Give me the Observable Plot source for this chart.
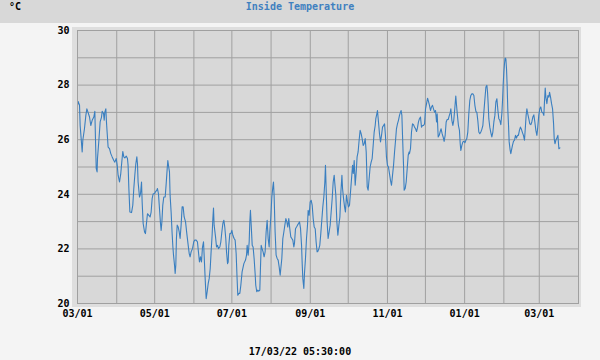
<!DOCTYPE html>
<html><head><meta charset="utf-8">
<script src="https://cdn.jsdelivr.net/npm/d3@7"></script>
<script src="https://cdn.jsdelivr.net/npm/@observablehq/plot@0.6"></script>
<style>
body{margin:0;background:#f4f4f4;}
#wrap{position:relative;width:600px;height:360px;background:#f4f4f4;overflow:hidden;font-family:"DejaVu Sans Mono",monospace;font-weight:bold;font-size:10px;line-height:10px;}
#band{position:absolute;left:0;top:0;width:600px;height:23px;background:#d8d8d8;}
#title{position:absolute;top:2px;left:0;width:600px;text-align:center;color:#4080c0;}
#unit{position:absolute;top:2px;left:9px;color:#000;}
#shadow{position:absolute;left:72px;top:27px;width:509px;height:280px;background:#dedede;}
#chart{position:absolute;left:0;top:0;}
#stamp{position:absolute;top:347px;left:0;width:600px;text-align:center;color:#000;}
</style></head>
<body>
<div id="wrap">
  <div id="band"></div>
  <div id="title">Inside Temperature</div>
  <div id="unit">°C</div>
  <div id="shadow"></div>
  <div id="chart"></div>
  <div id="stamp">17/03/22 05:30:00</div>
</div>
<script>
const startDate = "2021-03-01";
const endDate = "2022-04-01";
const xTickLabels = ["2021-03-01","2021-05-01","2021-07-01","2021-09-01","2021-11-01","2022-01-01","2022-03-01"];
const yTickLabels = [20,22,24,26,28,30];
// day offsets from startDate
const days = [
0,0.5,1.6,2.1,2.9,3.7,4.2,5.5,6.6,7.4,8.4,9.5,10.5,11.6,12.9,13.7,14.2,14.8,15.5,15.8,16.9,17.9,19.0,19.5,20.6,21.1,21.6,22.4,22.9,23.4,24.2,25.3,26.3,27.4,28.7,29.5,30.6,31.4,32.1,33.2,34.2,35.0,35.8,36.6,37.4,38.5,39.5,40.0,40.6,41.4,42.7,43.7,44.5,45.3,46.1,46.9,47.4,47.9,49.0,49.8,50.6,51.1,51.9,53.0,53.7,54.5,55.3,56.4,57.4,58.2,59.0,59.8,60.9,61.6,62.7,63.2,64.0,64.8,65.6,66.1,66.7,67.4,68.2,69.3,70.1,70.9,71.4,71.9,72.7,73.2,74.0,74.8,75.4,75.9,76.7,77.2,77.7,78.2,78.8,79.6,80.4,81.1,81.9,82.7,83.5,84.3,85.4,86.4,87.5,88.3,89.0,89.8,90.9,91.9,92.7,93.8,94.8,95.6,96.4,97.2,98.0,98.8,99.6,100.1,100.9,101.7,102.5,103.3,104.1,104.9,105.6,106.4,107.0,107.5,108.0,109.1,109.9,110.7,111.4,112.5,113.3,114.1,114.9,115.7,116.4,117.2,117.8,118.6,119.1,119.6,120.4,121.2,122.0,122.8,123.8,124.6,125.4,126.2,126.7,127.5,128.3,129.1,
130.1,131.5,132.8,133.6,134.1,134.9,135.7,136.2,136.7,137.3,138.1,138.8,139.6,140.4,140.9,141.7,142.5,143.3,144.1,144.6,145.2,145.9,146.7,147.5,148.3,149.1,149.9,150.7,151.5,152.0,152.8,153.6,154.4,154.9,155.4,156.2,157.0,157.8,158.6,159.4,160.2,160.7,161.5,162.3,163.1,163.9,164.7,165.5,166.2,167.0,167.8,168.6,169.4,170.2,171.0,171.5,172.3,173.1,173.9,174.7,175.5,176.3,177.1,177.6,178.1,178.9,179.4,180.2,181.0,181.8,182.3,183.1,183.9,184.7,185.5,186.3,187.1,187.9,188.6,189.4,190.0,190.8,191.5,192.3,193.1,193.9,194.7,195.5,196.0,196.5,197.3,198.1,198.9,199.7,200.5,201.3,202.1,202.9,203.4,204.2,205.0,205.8,206.6,207.4,208.2,209.0,209.5,210.3,211.1,211.8,212.6,213.4,214.2,215.0,215.8,216.6,217.4,218.0,218.7,219.5,220.3,221.0,221.8,222.6,223.4,224.2,225.0,225.8,226.6,227.4,228.2,229.0,229.7,230.5,231.3,232.1,232.9,233.7,234.5,235.3,235.8,236.6,237.1,237.9,238.7,239.5,240.3,241.1,241.9,242.7,243.4,244.2,245.0,245.8,246.6,247.4,248.2,249.0,249.8,250.6,251.4,252.1,252.9,253.7,254.5,255.3,255.8,256.4,256.9,257.7,258.2,259.0,259.8,260.6,261.4,262.1,
262.4,263.2,264.0,264.8,265.6,266.4,267.2,268.0,268.7,269.5,270.3,271.1,271.9,272.7,273.5,274.3,275.1,275.9,276.7,277.4,278.2,279.0,279.8,280.6,281.4,282.2,283.0,283.8,284.3,285.1,285.9,286.7,287.4,288.2,289.0,289.8,290.6,291.4,292.2,293.0,293.8,294.6,295.1,295.9,296.7,297.4,298.2,299.0,299.6,300.3,301.1,301.9,302.5,303.0,303.8,304.6,305.4,306.2,307.0,307.7,308.5,309.3,310.1,310.9,311.7,312.5,313.3,314.1,314.9,315.7,316.4,317.2,318.0,318.8,319.6,320.4,321.2,322.0,322.8,323.6,324.1,324.6,325.1,325.9,326.7,327.5,328.3,329.1,329.9,330.7,331.5,332.3,333.0,333.8,334.6,335.4,335.9,336.5,337.0,337.5,338.0,338.6,339.1,339.6,340.1,340.7,341.2,342.0,342.5,343.0,343.8,344.6,345.4,346.2,347.0,347.8,348.5,349.3,350.1,350.9,351.7,352.5,353.3,354.1,354.6,355.2,355.9,356.7,357.5,358.3,359.1,359.9,360.7,361.5,362.3,363.1,363.8,364.6,365.4,366.2,367.0,367.8,368.6,369.1,369.7,370.2,371.0,371.8,372.6,373.1,373.9,374.7,375.5,376.3,376.8,377.4,378.1,378.9,379.7,380.5,381.3
];
const temps = [
27.26,27.40,27.26,26.52,26.04,25.55,25.98,26.40,26.89,27.13,26.99,26.83,26.52,26.71,26.83,27.04,26.04,24.94,24.82,25.31,25.98,26.65,26.83,27.04,26.95,26.71,27.01,27.13,26.65,26.28,25.73,25.67,25.49,25.37,25.24,25.18,25.31,25.06,24.70,24.45,24.76,25.18,25.57,25.37,25.33,25.40,25.31,25.06,24.21,23.35,23.33,23.60,24.21,24.70,25.12,25.37,25.12,24.45,23.90,24.02,24.45,23.72,22.93,22.62,22.56,22.93,23.29,23.23,23.17,23.35,23.84,24.02,24.02,24.09,24.15,24.21,24.02,23.48,22.93,22.68,22.99,23.60,23.90,23.90,24.39,24.94,25.24,25.06,24.82,23.96,23.35,22.56,22.07,21.77,21.40,21.10,21.40,22.38,22.87,22.80,22.62,22.38,22.87,23.54,23.54,23.17,22.99,22.56,22.13,21.83,21.71,21.89,22.01,22.26,22.32,22.32,22.26,21.89,21.52,21.71,21.52,22.07,22.26,21.77,20.92,20.18,20.43,20.73,20.92,21.28,21.89,22.50,23.11,23.50,22.87,22.44,22.07,22.13,22.01,22.07,22.26,22.62,22.93,23.05,22.80,22.38,21.89,21.46,21.52,22.13,22.56,22.56,22.68,22.50,22.38,22.32,21.83,20.85,20.30,20.37,20.37,20.67,
21.16,21.46,21.59,21.77,22.13,21.77,22.26,22.99,23.41,22.87,22.13,22.07,21.65,21.10,20.67,20.43,20.49,20.45,20.49,21.28,22.13,22.01,21.89,21.71,21.89,22.62,23.05,22.38,22.07,22.62,23.17,23.90,24.27,24.45,23.96,22.62,21.77,21.65,21.59,21.34,21.04,21.28,21.65,22.38,22.62,22.87,23.11,22.99,22.80,23.11,22.74,22.44,22.38,22.32,22.07,22.20,22.74,22.80,22.87,22.93,22.99,22.74,22.13,21.46,20.92,20.55,21.10,21.65,22.38,22.87,23.41,23.23,23.72,23.78,23.60,23.11,22.80,22.74,22.26,21.89,21.91,22.01,22.13,22.56,23.05,23.54,23.90,24.45,25.06,24.27,22.99,22.38,22.62,22.87,23.35,23.84,24.45,24.70,24.39,23.96,22.99,22.50,22.87,23.17,24.09,24.70,24.21,23.84,23.54,23.35,23.96,23.72,23.54,23.60,24.09,24.57,25.06,24.76,25.24,24.33,24.82,25.37,25.55,25.98,26.34,26.22,26.04,25.79,25.85,26.04,25.55,24.27,24.15,24.57,25.00,25.18,25.31,25.79,26.28,26.52,26.77,26.95,27.07,26.65,26.22,25.92,26.16,26.46,26.52,26.58,26.16,25.37,25.06,25.00,24.76,24.51,24.33,24.70,25.06,25.55,25.98,26.40,26.58,26.71,26.89,27.01,27.07,26.89,26.16,25.06,24.15,24.21,24.45,24.94,25.43,25.55,
25.49,25.67,26.28,26.58,26.55,26.46,26.40,26.30,26.43,26.65,26.77,26.83,26.46,26.52,26.52,26.58,27.13,27.32,27.52,27.40,27.26,27.07,27.20,27.26,27.13,27.01,27.07,26.65,26.95,26.10,26.16,26.30,26.40,26.22,26.10,25.94,26.16,26.65,26.74,26.74,26.87,26.99,27.13,26.71,26.52,26.71,27.13,27.60,27.26,26.89,26.52,26.34,25.85,25.61,25.79,25.92,25.94,25.89,25.98,26.04,26.28,26.95,27.44,27.62,27.68,27.68,27.62,27.26,27.04,26.99,26.71,26.28,26.22,26.28,26.38,26.52,27.01,27.48,27.93,27.99,27.74,27.32,26.77,26.46,26.26,26.10,26.28,26.65,26.89,27.38,27.50,27.07,26.77,26.71,26.55,26.95,27.38,28.05,28.48,28.78,28.99,28.96,28.60,27.99,27.13,26.52,25.92,25.61,25.49,25.61,25.79,25.94,25.98,26.16,26.06,26.16,26.16,26.34,26.46,26.38,26.26,26.16,25.98,26.52,26.89,27.13,26.95,26.77,26.58,26.55,26.65,26.83,26.91,26.65,26.34,26.16,26.46,26.89,27.13,27.20,27.01,26.99,26.89,27.38,27.89,27.56,27.32,27.62,27.56,27.74,27.56,27.32,27.13,26.58,26.04,25.85,25.98,26.06,26.16,25.67,25.70
];

const t0 = new Date(startDate + "T00:00:00Z");
const data = days.map((d, i) => ({date: new Date(+t0 + d * 864e5), temp: temps[i]}));
const xDomain = [t0, new Date(endDate + "T00:00:00Z")];
const monthGrid = d3.utcMonth.range(xDomain[0], d3.utcDay.offset(xDomain[1], 1));
const yGrid = d3.range(20, 31, 1);
const xTicks = xTickLabels.map(s => new Date(s + "T00:00:00Z"));

const chart = Plot.plot({
  width: 600, height: 360,
  marginLeft: 77, marginRight: 22, marginTop: 30, marginBottom: 57,
  style: {background: "transparent", fontFamily: "DejaVu Sans Mono, monospace", fontSize: "10px", fontWeight: "bold", color: "#000"},
  x: {type: "utc", domain: xDomain, label: null},
  y: {domain: [20, 30], label: null},
  marks: [
    Plot.frame({fill: "#d8d8d8"}),
    Plot.gridX(monthGrid, {stroke: "#a0a0a0", strokeOpacity: 1}),
    Plot.gridY(yGrid, {stroke: "#a0a0a0", strokeOpacity: 1}),
    Plot.line(data, {x: "date", y: "temp", stroke: "#3a7fc0", strokeWidth: 1.1}),
    Plot.frame({stroke: "#a0a0a0"}),
    Plot.axisX(xTicks, {tickSize: 0, tickPadding: 6, tickFormat: d3.utcFormat("%m/%d"), fill: "#000", label: null}),
    Plot.axisY(yTickLabels, {tickSize: 0, tickPadding: 8, fill: "#000", label: null})
  ]
});
document.getElementById("chart").appendChild(chart);
</script>
</body></html>
